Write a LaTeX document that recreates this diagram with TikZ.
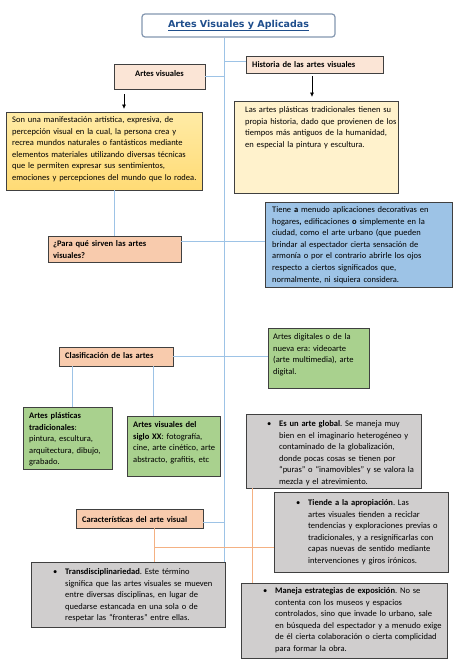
\documentclass[tikz,border=0pt]{standalone}
\usepackage{fontspec}
\setmainfont{Carlito}
\newfontfamily\titlefont{DejaVu Sans}
\usetikzlibrary{arrows.meta,fit}
\frenchspacing
\definecolor{pinkL}{HTML}{FBE5D6}
\definecolor{orangeF}{HTML}{F8CBAD}
\definecolor{yellowL}{HTML}{FFF2CC}
\definecolor{yellowT}{HTML}{FFEBA6}
\definecolor{yellowB}{HTML}{FFDB75}
\definecolor{blueF}{HTML}{9DC3E6}
\definecolor{greenF}{HTML}{A9D18E}
\definecolor{grayF}{HTML}{D0CECE}
\definecolor{borderC}{HTML}{404040}
\definecolor{lineB}{HTML}{9DC3E6}
\definecolor{lineO}{HTML}{F4B183}
\definecolor{titleC}{HTML}{1F4E8C}
\definecolor{titleB}{HTML}{8497B0}
\newcommand{\bul}{\noindent\llap{\makebox[12pt][l]{\textbullet}}}
\begin{document}
\begin{tikzpicture}[x=1pt,y=-1pt,
  box/.style={draw=borderC, line width=0.8pt, inner sep=0pt},
  txt/.style={inner sep=0pt, anchor=base west, align=left, text width=#1,
              font=\fontsize{8.5}{11.6}\selectfont},
  btxt/.style={txt=#1, font=\fontsize{8.5}{11.6}\selectfont\bfseries},
  ctxt/.style={inner sep=0pt, anchor=base, align=center,
              font=\fontsize{8.5}{11.6}\selectfont\bfseries},
  bl/.style={draw=lineB, line width=0.9pt},
  ol/.style={draw=lineO, line width=0.9pt},
  arr/.style={draw=black, line width=0.6pt, -{Triangle[length=4pt,width=3.5pt]}},
  titlebox/.style={draw=titleB, line width=1.2pt, rounded corners=3pt, fill=white, inner sep=0pt}
]
\useasboundingbox[fill=white] (0,0) rectangle (474,670);

% ---------- boxes ----------
\node[titlebox, fit={(142,14) (335,37)}] (title) {};
\node[box, fill=pinkL, fit={(114,64) (205,89)}] (av) {};
\node[box, fill=pinkL, fit={(246,56) (383,73)}] (hist) {};
\node[box, top color=yellowT, bottom color=yellowB, fit={(6,112) (202,190)}] (yl) {};
\node[box, fill=yellowL, fit={(234,101) (398,193)}] (yr) {};
\node[box, fill=orangeF, fit={(48,236) (181,262)}] (para) {};
\node[box, fill=blueF, fit={(265,202) (452,287)}] (blue) {};
\node[box, fill=orangeF, fit={(59,347) (173,366)}] (clas) {};
\node[box, fill=greenF, fit={(268,328) (369,388)}] (gr) {};
\node[box, fill=greenF, fit={(23,407) (112,469)}] (ap) {};
\node[box, fill=greenF, fit={(127,416) (220,476)}] (s20) {};
\node[box, fill=grayF, fit={(246,414) (421,488)}] (g1) {};
\node[box, fill=grayF, fit={(274,492) (448,572)}] (g2) {};
\node[box, fill=orangeF, fit={(76,509) (203,528)}] (car) {};
\node[box, fill=grayF, fit={(31,562) (225,627)}] (td) {};
\node[box, fill=grayF, fit={(241,583) (447,658)}] (mj) {};

% ---------- connectors ----------
\coordinate (sp) at (224,0);
\draw[bl] (title.south -| sp) -- (td.north -| sp);
\draw[bl] (av.east) -- (av.east -| sp);
\coordinate (h1) at ([yshift=3.5pt]hist.west);
\draw[bl] (h1 -| sp) -- (h1);
\coordinate (a1) at (124,0);
\draw[arr, shorten <=5pt, shorten >=3pt] (av.south -| a1) -- (yl.north -| a1);
\coordinate (a2) at (312,0);
\draw[arr, shorten <=3pt, shorten >=4pt] (hist.south -| a2) -- (yr.north -| a2);
\coordinate (p1) at (114,0);
\draw[bl] (yl.south -| p1) -- (para.north -| p1);
\coordinate (p2) at ([yshift=8pt]para.east);
\draw[bl] (p2) -- (p2 -| blue.west);
\draw[bl] (clas.east) -- (clas.east -| gr.west);
\coordinate (c1) at (72,0);
\draw[bl] (clas.south -| c1) -- (ap.north -| c1);
\coordinate (c2) at (153,0);
\draw[bl] (clas.south -| c2) -- (s20.north -| c2);
\coordinate (k1) at ([yshift=-3.5pt]car.east);
\draw[bl] (k1) -- (k1 -| sp);
\coordinate (o1) at (154,0);
\draw[ol] (car.south -| o1) -- (td.north -| o1);
\coordinate (o2) at (154,547);
\draw[ol] (o2) -- (o2 -| g2.west);
\coordinate (o3) at (252,0);
\draw[ol] (g1.south -| o3) -- (mj.north -| o3);

% ---------- texts ----------
\node[inner sep=0pt, anchor=base, text=titleC, font=\titlefont\bfseries\fontsize{9.5}{11}\selectfont] (titleT) at (238.5,27) {\underline{Artes Visuales y Aplicadas}};
\node[ctxt] (avT) at (159.5,76) {Artes visuales};
\node[btxt=135pt] (histT) at (252,67.5) {Historia de las artes visuales};
\node[txt=200pt] (ylT) at (12,122.5) {Son una manifestación artística, expresiva, de\\
percepción visual en la cual, la persona crea y\\
recrea mundos naturales o fantásticos mediante\\
elementos materiales utilizando diversas técnicas\\
que le permiten expresar sus sentimientos,\\
emociones y percepciones del mundo que lo rodea.};
\node[txt=165pt] (yrT) at (245,112.5) {Las artes plásticas tradicionales tienen su\\
propia historia, dado que provienen de los\\
tiempos más antiguos de la humanidad,\\
en especial la pintura y escultura.};
\node[btxt=130pt] (paraT) at (53,246.5) {¿Para qué sirven las artes\\ visuales?};
\node[txt=185pt] (blueT) at (272,212.5) {Tiene \textbf{a} menudo aplicaciones decorativas en\\
hogares\textbf{,} edificaciones \textbf{o} simplemente en la\\
ciudad, como el arte urbano (que pueden\\
brindar al espectador cierta sensación de\\
armonía o por el contrario abrirle los ojos\\
respecto a ciertos significados que,\\
normalmente, ni siquiera considera.};
\node[btxt=115pt] (clasT) at (65,358) {Clasificación de las artes};
\node[txt=100pt] (grT) at (273,339.5) {Artes digitales o de la\\
nueva era: videoarte\\
(arte multimedia), arte\\
digital.};
\node[txt=95pt] (apT) at (29,418.5) {\textbf{Artes plásticas}\\
\textbf{tradicionales}:\\
pintura, escultura,\\
arquitectura, dibujo,\\
grabado.};
\node[txt=100pt] (s20T) at (133,427.5) {\textbf{Artes visuales del}\\
\textbf{siglo XX}: fotografía,\\
cine, arte cinético, arte\\
abstracto, grafitis, etc};
\node[txt=150pt] (g1T) at (279,426.5) {\bul\textbf{Es un arte global}. Se maneja muy\\
bien en el imaginario heterogéneo y\\
contaminado de la globalización,\\
donde pocas cosas se tienen por\\
“puras” o “inamovibles” y se valora la\\
mezcla y el atrevimiento.};
\node[txt=150pt] (g2T) at (308,505.5) {\bul\textbf{Tiende a la apropiación}. Las\\
artes visuales tienden a reciclar\\
tendencias y exploraciones previas o\\
tradicionales, y a resignificarlas con\\
capas nuevas de sentido mediante\\
intervenciones y giros irónicos.};
\node[btxt=130pt] (carT) at (82,522) {Características del arte visual};
\node[txt=170pt] (tdT) at (65,574.5) {\bul\textbf{Transdisciplinariedad}. Este término\\
significa que las artes visuales se mueven\\
entre diversas disciplinas, en lugar de\\
quedarse estancada en una sola o de\\
respetar las “fronteras” entre ellas.};
\node[txt=185pt] (mjT) at (275,593.5) {\bul\textbf{Maneja estrategias de exposición}. No se\\
contenta con los museos y espacios\\
controlados, sino que invade lo urbano, sale\\
en búsqueda del espectador y a menudo exige\\
de él cierta colaboración o cierta complicidad\\
para formar la obra.};
\end{tikzpicture}
\end{document}
